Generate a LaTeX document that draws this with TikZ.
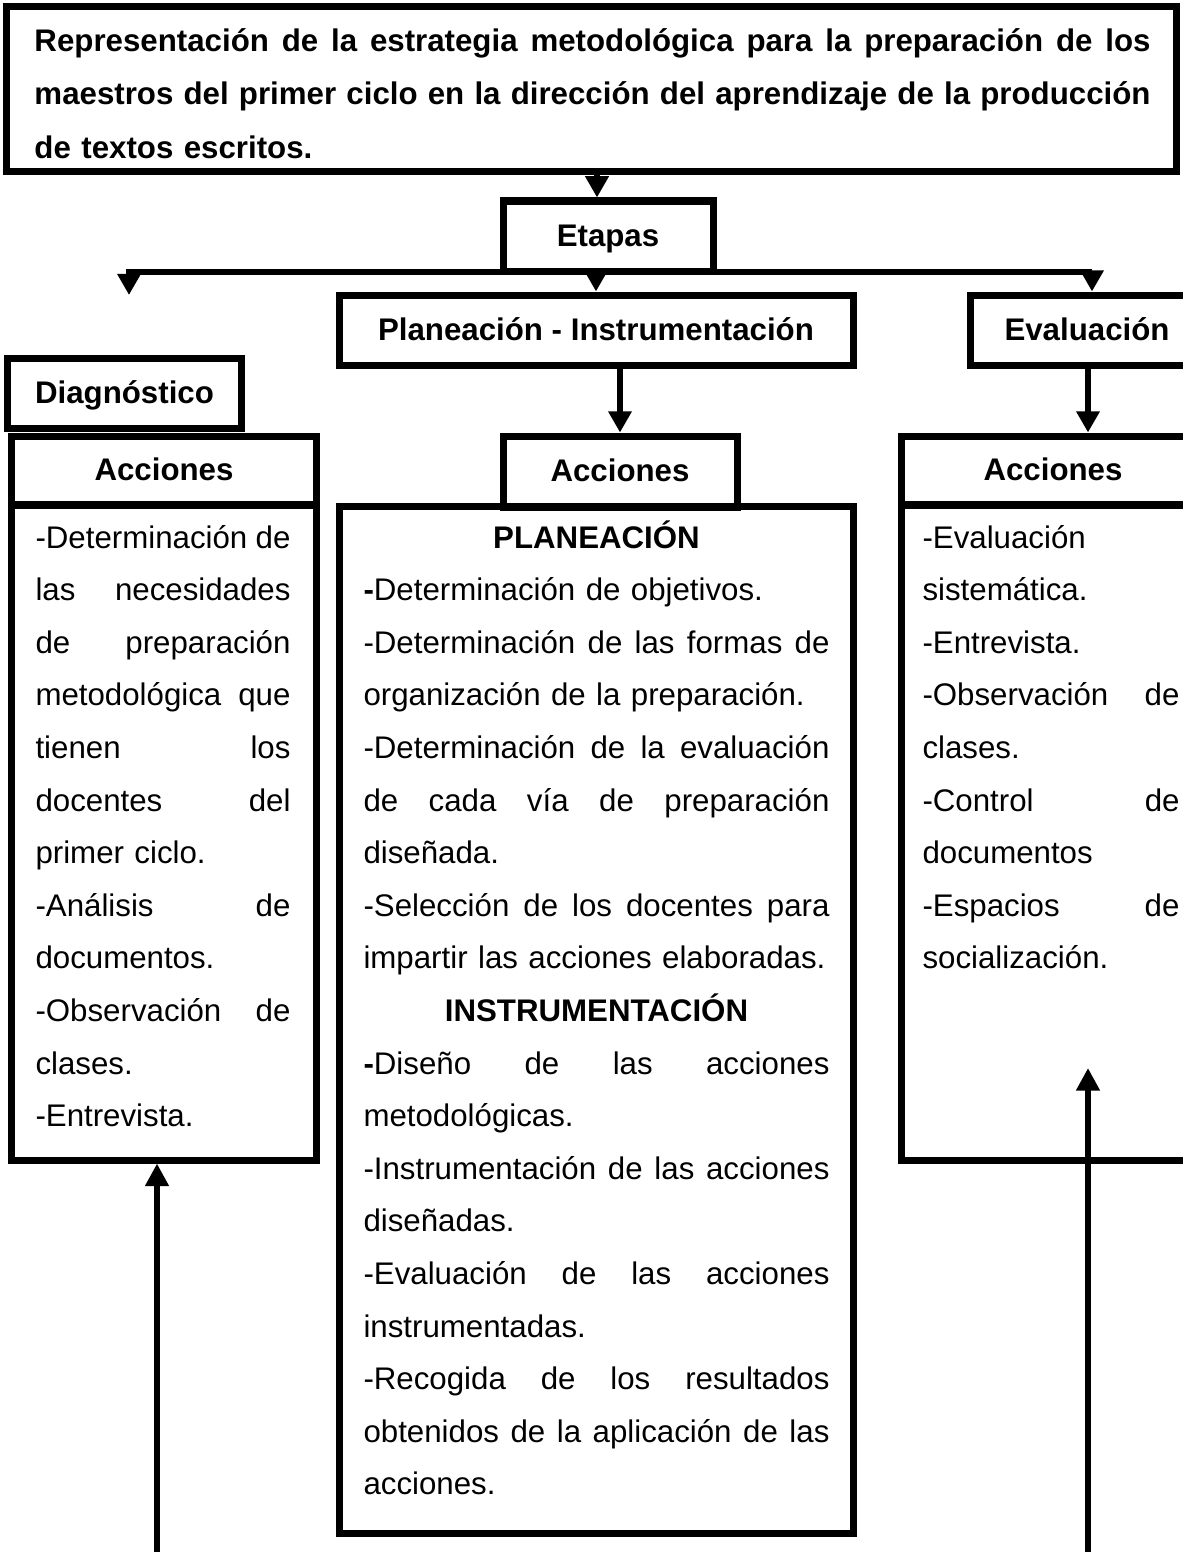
\documentclass[tikz,border=0pt]{standalone}
\usepackage{fontspec}
\setmainfont{Liberation Sans}
\usetikzlibrary{arrows.meta}
\newcommand\jl[1]{\makebox[\linewidth][s]{\spaceskip=0pt\xspaceskip=0pt\relax #1}}
\newcommand\cl[1]{\makebox[\linewidth][c]{#1}}
\begin{document}
\begin{tikzpicture}[x=0.4pt,y=-0.4pt,
  box/.style={draw, line width=2.8pt, inner sep=0pt, text height=8.6pt, text depth=0.4pt,
    font=\fontsize{12.5}{15}\selectfont\bfseries},
  arr/.style={line width=2.4pt, -{Triangle[width=9pt,length=8.5pt]}},
  uparr/.style={line width=2.4pt, -{Triangle[width=9pt,length=9pt]}},
  body/.style={anchor=base west, inner sep=0pt, align=left,
    font=\fontsize{12.5}{21.04}\selectfont},
  ttl/.style={anchor=base west, inner sep=0pt, align=left,
    font=\fontsize{12.5}{21.2}\selectfont\bfseries},
]
\path[use as bounding box] (0,0) rectangle (1183,1552);
\clip (0,0) rectangle (1183,1552);

% boxes
\node[box, minimum width=467.6pt, minimum height=65.6pt] (title) at (591.5,89) {};
\node[box, minimum width=84pt, minimum height=28pt] (etapas) at (608,236) {Etapas};
\node[box, minimum width=205.6pt, minimum height=28pt] (plan) at (596,330) {Planeación - Instrumentación};
\node[box, minimum width=93.6pt, minimum height=28pt] (eval) at (1087,330) {Evaluación};
\node[box, minimum width=93.2pt, minimum height=28pt] (diag) at (124.5,393) {Diagnóstico};

\node[box, minimum width=121.6pt, minimum height=27.6pt] (lhead) at (164,470.5) {Acciones};
\node[box, minimum width=121.6pt, minimum height=262pt] (lbody) at (164,832.5) {};
\node[box, minimum width=93.6pt, minimum height=28.4pt] (mhead) at (620,471.5) {Acciones};
\node[box, minimum width=205.6pt, minimum height=410.4pt] (mbody) at (596,1020) {};
\node[box, minimum width=121.6pt, minimum height=27.6pt] (rhead) at (1053,470.5) {Acciones};
\node[box, minimum width=121.6pt, minimum height=262pt] (rbody) at (1053,832.5) {};

% title text
\node[ttl, text width=446.4pt] (ttext) at (34,52) {%
\jl{Representación de la estrategia metodológica para la preparación de los}\\
\jl{maestros del primer ciclo en la dirección del aprendizaje de la producción}\\
de textos escritos.};

% body texts
\node[body, text width=102pt] (ltext) at (35,548) {%
\jl{-Determinación de}\\
\jl{las necesidades}\\
\jl{de preparación}\\
\jl{metodológica que}\\
\jl{tienen los}\\
\jl{docentes del}\\
primer ciclo.\\
\jl{-Análisis de}\\
documentos.\\
\jl{-Observación de}\\
clases.\\
-Entrevista.};

\node[body, text width=186.4pt] (mtext) at (363,548) {%
\cl{\textbf{PLANEACIÓN}}\\
\textbf{-}Determinación de objetivos.\\
\jl{-Determinación de las formas de}\\
organización de la preparación.\\
\jl{-Determinación de la evaluación}\\
\jl{de cada vía de preparación}\\
diseñada.\\
\jl{-Selección de los docentes para}\\
impartir las acciones elaboradas.\\
\cl{\textbf{INSTRUMENTACIÓN}}\\
\jl{\textbf{-}Diseño de las acciones}\\
metodológicas.\\
\jl{-Instrumentación de las acciones}\\
diseñadas.\\
\jl{-Evaluación de las acciones}\\
instrumentadas.\\
\jl{-Recogida de los resultados}\\
\jl{obtenidos de la aplicación de las}\\
acciones.};

\node[body, text width=102.8pt] (rtext) at (922,548) {%
-Evaluación\\
sistemática.\\
-Entrevista.\\
\jl{-Observación de}\\
clases.\\
\jl{-Control de}\\
documentos\\
\jl{-Espacios de}\\
socialización.};

% connectors
\coordinate (tarr) at (597,0);
\coordinate (hl) at (129,272);
\coordinate (hr) at (1092,272);
\coordinate (dtip) at (129,295);
\coordinate (lb) at (157,1552);
\coordinate (rb) at (1088,1552);
\coordinate (rtip) at (1088,1068);
\coordinate (mcol) at (620,0);
\coordinate (rcol) at (1088,0);

\draw[arr] (tarr |- title.south) -- (tarr |- etapas.north);
\draw[arr] (hr) -- (hl) -- (dtip);
\draw[arr] (hl) -- (hr) -- (hr |- eval.north);
\draw[arr] (plan.north |- hl) -- (plan.north);
\draw[arr] (mcol |- plan.south) -- (mcol |- mhead.north);
\draw[arr] (rcol |- eval.south) -- (rcol |- rhead.north);
\draw[uparr] (lb) -- (lb |- lbody.south);
\draw[uparr] (rb) -- (rtip);
\end{tikzpicture}
\end{document}
